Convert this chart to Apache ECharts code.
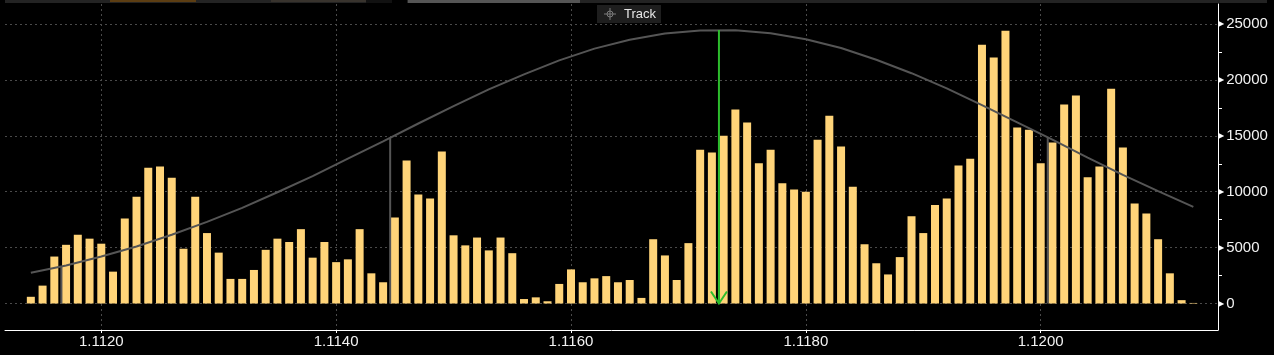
<!DOCTYPE html>
<html><head><meta charset="utf-8">
<script src="https://cdn.jsdelivr.net/npm/echarts@6/dist/echarts.min.js"></script>
<style>html,body{margin:0;padding:0;background:#000;}#c{width:1274px;height:355px;}</style>
</head><body><div id="c"></div>
<script>
// price levels (x categories)
const prices = [
  1.1114,1.1115,1.1116,1.1117,1.1118,1.1119,1.1120,1.1121,1.1122,1.1123,
  1.1124,1.1125,1.1126,1.1127,1.1128,1.1129,1.1130,1.1131,1.1132,1.1133,
  1.1134,1.1135,1.1136,1.1137,1.1138,1.1139,1.1140,1.1141,1.1142,1.1143,
  1.1144,1.1145,1.1146,1.1147,1.1148,1.1149,1.1150,1.1151,1.1152,1.1153,
  1.1154,1.1155,1.1156,1.1157,1.1158,1.1159,1.1160,1.1161,1.1162,1.1163,
  1.1164,1.1165,1.1166,1.1167,1.1168,1.1169,1.1170,1.1171,1.1172,1.1173,
  1.1174,1.1175,1.1176,1.1177,1.1178,1.1179,1.1180,1.1181,1.1182,1.1183,
  1.1184,1.1185,1.1186,1.1187,1.1188,1.1189,1.1190,1.1191,1.1192,1.1193,
  1.1194,1.1195,1.1196,1.1197,1.1198,1.1199,1.1200,1.1201,1.1202,1.1203,
  1.1204,1.1205,1.1206,1.1207,1.1208,1.1209,1.1210,1.1211,1.1212,1.1213
];
// volume at each price level
const volumes = [
  600,1600,4200,5250,6150,5800,5350,2850,7600,9550,
  12150,12250,11250,4900,9550,6300,4550,2200,2200,3000,
  4800,5800,5500,6650,4100,5500,3700,3950,6650,2700,
  1900,7700,12800,9750,9400,13600,6100,5200,5900,4750,
  5900,4500,400,550,200,1750,3050,1900,2250,2450,
  1900,2100,500,5750,4300,2100,5400,13750,13500,15000,
  17350,16200,12550,13750,10750,10200,10000,14650,16800,14050,
  10450,5300,3600,2600,4150,7800,6300,8800,9400,12350,
  12950,23150,22000,24400,15750,15550,12550,14400,17800,18600,
  11300,12250,19200,13950,8950,8050,5750,2700,300,50
];
// fitted distribution curve
const curvePrices = [
  1.1114,1.1117,1.1120,1.1123,1.1126,1.1129,1.1132,1.1135,1.1138,1.1141,
  1.1144,1.1147,1.1150,1.1153,1.1156,1.1159,1.1162,1.1165,1.1168,1.1171,
  1.1174,1.1177,1.1180,1.1183,1.1186,1.1189,1.1192,1.1195,1.1198,1.1201,
  1.1204,1.1207,1.1210,1.1213
];
const curveValues = [
  2750,3400,4200,5100,6150,7300,8550,9950,11400,12950,
  14500,16100,17650,19150,20500,21750,22800,23600,24150,24430,
  24440,24170,23630,22850,21800,20600,19250,17750,16200,14650,
  13050,11500,10050,8650
];
// sigma marker lines
const sigmaPrices = [1.11166, 1.11446, 1.12006];
const sigmaValues = [3310, 14840, 14840];
// mean (track arrow)
const meanPrice = 1.11726;
const meanValue = 24470;
// axis ticks
const xTicks = [1.112, 1.114, 1.116, 1.118, 1.120];
const yTicks = [0, 5000, 10000, 15000, 20000, 25000];
const yMinorTicks = [2500, 7500, 12500, 17500, 22500];

const X_MIN = 1.11118, X_MAX = 1.12151, Y_MIN = -2370, Y_MAX = 26790;
const LBL_FONT = '"Liberation Sans Narrow", "Arial Narrow", sans-serif';

const chart = echarts.init(document.getElementById('c'), null, {renderer: 'canvas'});
chart.setOption({
  backgroundColor: '#000',
  animation: false,
  grid: {left: 5, right: 56, top: 4, bottom: 25, containLabel: false, outerBoundsMode: 'none'},
  xAxis: {
    type: 'value', min: X_MIN, max: X_MAX,
    axisLine: {show: true, onZero: false, lineStyle: {color: '#fff', width: 1}},
    axisTick: {show: true, length: 3, customValues: xTicks, lineStyle: {color: '#fff'}},
    axisLabel: {
      customValues: xTicks, margin: 4, color: '#f2f2f2', fontSize: 15, fontFamily: LBL_FONT,
      formatter: v => v.toFixed(4)
    },
    splitLine: {show: true, lineStyle: {color: '#4a4a4a', type: [2, 3], width: 1}}
  },
  yAxis: [{
    type: 'value', position: 'right', min: Y_MIN, max: Y_MAX, offset: 0,
    axisLine: {show: true, onZero: false, lineStyle: {color: '#fff', width: 1}},
    axisTick: {show: false, customValues: yTicks},
    axisLabel: {
      customValues: yTicks, margin: 0,
      formatter: v => '{t|\u25B6}{v|' + v + '}',
      rich: {
        t: {fontSize: 8, color: '#fff', fontFamily: 'DejaVu Sans', padding: [0, 2, 0, 0]},
        v: {fontSize: 15, color: '#f2f2f2', fontFamily: LBL_FONT}
      }
    },
    splitLine: {show: true, lineStyle: {color: '#4a4a4a', type: [2, 3], width: 1}}
  }, {
    type: 'value', position: 'right', min: Y_MIN, max: Y_MAX, offset: 0,
    axisLine: {show: false},
    axisTick: {show: true, length: 4, customValues: yMinorTicks, lineStyle: {color: '#fff'}},
    axisLabel: {show: false},
    splitLine: {show: false}
  }],
  series: [{
    type: 'bar', yAxisIndex: 0, barWidth: 8,
    itemStyle: {color: '#ffd479'},
    data: prices.map((p, i) => [p, volumes[i]]),
    z: 2
  }, {
    type: 'line', yAxisIndex: 0, showSymbol: false, symbol: 'none',
    lineStyle: {color: '#555', width: 2},
    data: curvePrices.map((p, i) => [p, curveValues[i]]),
    z: 3
  }, {
    type: 'custom', yAxisIndex: 0, z: 3,
    data: sigmaPrices.map((p, i) => [p, sigmaValues[i]]),
    renderItem: (params, api) => {
      const top = api.coord([api.value(0), api.value(1)]);
      const bot = api.coord([api.value(0), 0]);
      return {type: 'line', shape: {x1: top[0], y1: top[1], x2: bot[0], y2: bot[1]},
        style: {stroke: '#555', lineWidth: 2}};
    }
  }, {
    type: 'custom', yAxisIndex: 0, z: 4,
    data: [[meanPrice, meanValue]],
    renderItem: (params, api) => {
      const top = api.coord([api.value(0), api.value(1)]);
      const tip = api.coord([api.value(0), 0]);
      return {type: 'group', children: [
        {type: 'line', shape: {x1: top[0], y1: top[1], x2: tip[0], y2: tip[1]},
          style: {stroke: '#2dbd2d', lineWidth: 2}},
        {type: 'polyline', shape: {points: [[tip[0] - 8, tip[1] - 12], [tip[0], tip[1]], [tip[0] + 8, tip[1] - 12]]},
          style: {stroke: '#2dbd2d', lineWidth: 2, fill: null}}
      ]};
    }
  }],
  graphic: [
    {type: 'rect', shape: {x: 5, y: 0, width: 1262, height: 3}, style: {fill: '#232323'}, silent: true},
    {type: 'rect', shape: {x: 110, y: 0, width: 86, height: 2}, style: {fill: '#5c3d12'}, silent: true},
    {type: 'rect', shape: {x: 271, y: 0, width: 95, height: 2}, style: {fill: '#38332d'}, silent: true},
    {type: 'rect', shape: {x: 366, y: 0, width: 26, height: 3}, style: {fill: '#111'}, silent: true},
    {type: 'rect', shape: {x: 392, y: 0, width: 15, height: 3}, style: {fill: '#000'}, silent: true},
    {type: 'rect', shape: {x: 408, y: 0, width: 172, height: 3}, style: {fill: '#555'}, silent: true},
    {type: 'rect', shape: {x: 597, y: 5, width: 64, height: 18}, style: {fill: '#1e1e1e'}, silent: true, z: 10},
    {type: 'circle', shape: {cx: 610, cy: 14, r: 3}, style: {stroke: '#7a7a7a', fill: null, lineWidth: 1}, silent: true, z: 11},
    {type: 'line', shape: {x1: 604, y1: 14, x2: 616, y2: 14}, style: {stroke: '#7a7a7a', lineWidth: 1}, silent: true, z: 11},
    {type: 'line', shape: {x1: 610, y1: 8, x2: 610, y2: 20}, style: {stroke: '#7a7a7a', lineWidth: 1}, silent: true, z: 11},
    {type: 'text', x: 624, y: 14, style: {text: 'Track', fill: '#e6e6e6', font: '13px "Liberation Sans", Arial, sans-serif', textVerticalAlign: 'middle'}, silent: true, z: 11}
  ]
});
</script>
</body></html>
